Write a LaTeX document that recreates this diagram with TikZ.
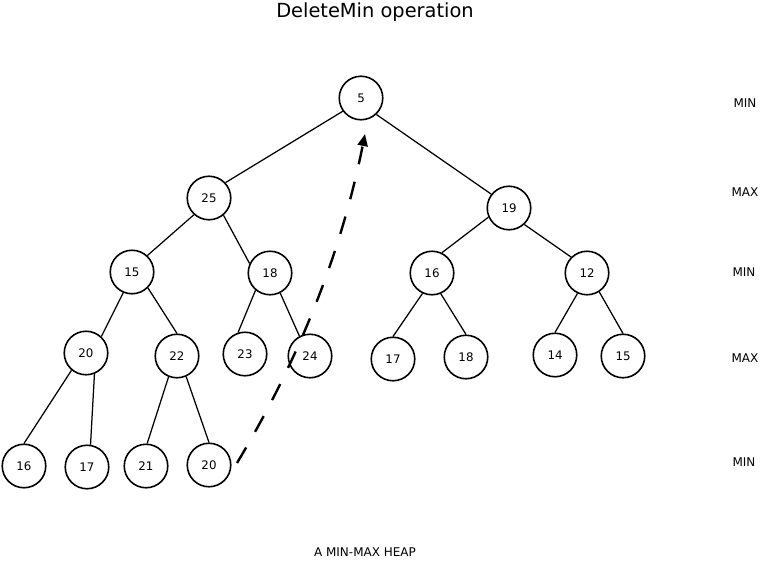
\documentclass[tikz,border=0pt]{standalone}
\usepackage{fontspec}
\setmainfont{DejaVu Sans}
\usetikzlibrary{arrows.meta}
\begin{document}
\begin{tikzpicture}[x=1pt,y=-1pt,
  hn/.style={circle,draw,line width=1.6pt,minimum size=43.5pt,inner sep=0pt,font=\fontsize{11.8}{13}\selectfont},
  lvl/.style={font=\fontsize{12}{14}\selectfont},
  edge/.style={line width=1.25pt}]
\useasboundingbox (0,0) rectangle (762,562);
\node (title) at (375,12) {\fontsize{19.4}{22}\selectfont DeleteMin operation};
\node[hn] (n5) at (361,98) {5};
\node[hn] (n25) at (209,198) {25};
\node[hn] (n19) at (509,208) {19};
\node[hn] (n15) at (132,272) {15};
\node[hn] (n18) at (270,273) {18};
\node[hn] (n16) at (432,273) {16};
\node[hn] (n12) at (587,273) {12};
\node[hn] (n20) at (86,353) {20};
\node[hn] (n22) at (177,356) {22};
\node[hn] (n23) at (245,354) {23};
\node[hn] (n24) at (310,356) {24};
\node[hn] (n17) at (393,359) {17};
\node[hn] (n18b) at (466,357) {18};
\node[hn] (n14) at (555,355) {14};
\node[hn] (n15b) at (623,356) {15};
\node[hn] (n16b) at (24,466) {16};
\node[hn] (n17b) at (87,467) {17};
\node[hn] (n21) at (146,466) {21};
\node[hn] (n20b) at (209,465) {20};
\foreach \a/\aa/\b/\bb in {n5/216/n25/43, n5/313/n19/142, n25/228/n15/47, n25/310/n18/155,
  n19/204/n16/64, n19/313/n12/135, n15/247/n20/47, n15/315/n22/90, n18/230/n23/108,
  n18/297/n24/118, n16/245/n17/90, n16/293/n18b/90, n12/245/n14/90, n12/303/n15b/90,
  n20/230/n16b/90, n20/292/n17b/81, n22/248/n21/87, n22/294/n20b/90}
  \draw[edge] (\a.\aa) -- (\b.\bb);
\coordinate (s) at (237,463);
\coordinate (e) at (365,134);
\draw[line width=2.4pt,dash pattern=on 18pt off 18pt,-{Triangle[length=12pt,width=10pt]}] (s) .. controls (309,343) and (345,234) .. (e);
\node[lvl] (l1) at (745,103) {MIN};
\node[lvl] (l2) at (745,192) {MAX};
\node[lvl] (l3) at (744,272) {MIN};
\node[lvl] (l4) at (745,358) {MAX};
\node[lvl] (l5) at (744,462) {MIN};
\node[lvl] (cap) at (365,552) {A MIN-MAX HEAP};
\end{tikzpicture}
\end{document}
